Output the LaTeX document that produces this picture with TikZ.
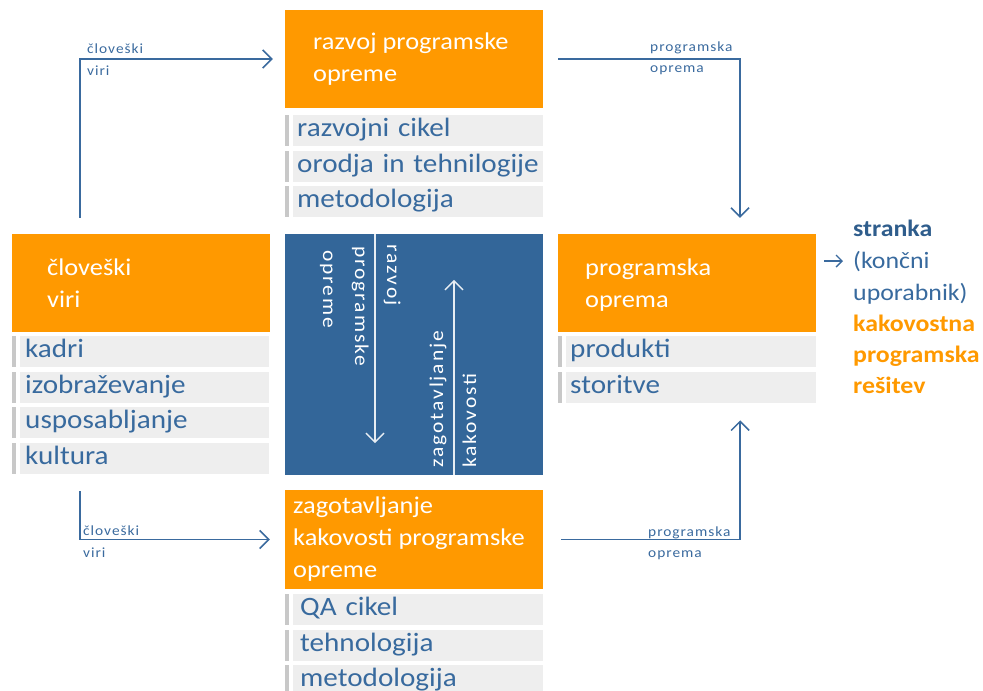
\documentclass[tikz,border=0pt]{standalone}
\usepackage{fontspec}
\setmainfont{Carlito}[FakeStretch=1.1]
\newfontfamily\spacedfont{Carlito}[FakeStretch=1.1,LetterSpace=10]
\newfontfamily\smallfont{Carlito}[FakeStretch=1.1,LetterSpace=7]
\usetikzlibrary{arrows.meta}
\definecolor{orng}{HTML}{FF9900}
\definecolor{navy}{HTML}{336699}
\definecolor{ink}{HTML}{386A9E}
\definecolor{wire}{HTML}{3A6A9E}
\definecolor{rowfill}{HTML}{EEEEEE}
\definecolor{rowbar}{HTML}{C8C8C8}
\definecolor{deep}{HTML}{2F5D8C}
\begin{document}
\begin{tikzpicture}[x=1pt,y=-1pt,
  head/.style={fill=orng, draw=none, minimum width=258, minimum height=98, inner sep=0},
  corebox/.style={fill=navy, draw=none, minimum width=258, minimum height=241, inner sep=0},
  htext/.style={text=white, font=\fontsize{24}{28}\selectfont, anchor=base west, inner sep=0},
  rowbase/.style={fill=rowfill, anchor=north west, minimum height=31, inner ysep=0,
    text height=18, text depth=6, align=left, text=ink, font=\fontsize{26.5}{30}\selectfont},
  rowT/.style={rowbase, inner xsep=4, text width=242},
  rowB/.style={rowbase, inner xsep=7, text width=236},
  rowL/.style={rowbase, inner xsep=5, text width=239},
  rowR/.style={rowbase, inner xsep=4, text width=242},
  lbl/.style={text=wire, font=\smallfont\fontsize{14}{16}\selectfont, anchor=base west, inner sep=0},
  rot/.style={text=white, font=\spacedfont\fontsize{19.5}{22}\selectfont, anchor=base west, inner sep=0},
  cust/.style={anchor=base west, inner sep=0, font=\fontsize{23.5}{26}\selectfont},
  conn/.style={draw=wire, line width=1.5pt, -{Straight Barb[length=9pt,width=18pt]}},
  inarr/.style={draw=white!88!navy, line width=1.5pt, -{Straight Barb[length=9pt,width=18pt]}}
]
\useasboundingbox (0,0) rectangle (983,691);
\clip (0,0) rectangle (983,691);

% --- four orange headers and the blue centre panel
\node[head] (dev) at (414,59) {};
\node[head] (hr) at (140.5,283) {};
\node[head] (sw) at (687,283) {};
\node[head, minimum height=99] (qa) at (414,539.5) {};
\node[corebox] (core) at (414,354.5) {};

% --- header captions
\node[htext] (devT1) at (313,49) {razvoj programske};
\node[htext] (devT2) at (313,81) {opreme};
\node[htext] (hrT1) at (47,275) {človeški};
\node[htext] (hrT2) at (47,307) {viri};
\node[htext] (swT1) at (585,275) {programska};
\node[htext] (swT2) at (585,307) {oprema};
\node[htext] (qaT1) at (293,513) {zagotavljanje};
\node[htext] (qaT2) at (293,545) {kakovosti programske};
\node[htext] (qaT3) at (293,577) {opreme};

% --- item rows
\node[rowT] (dev1) at (293,115) {razvojni cikel};
\node[rowT] (dev2) at (293,151) {orodja in tehnilogije};
\node[rowT] (dev3) at (293,186) {metodologija};
\node[rowL] (hr1) at (20,336) {kadri};
\node[rowL] (hr2) at (20,372) {izobraževanje};
\node[rowL] (hr3) at (20,407) {usposabljanje};
\node[rowL] (hr4) at (20,443) {kultura};
\node[rowR] (sw1) at (566,336) {produkti};
\node[rowR] (sw2) at (566,372) {storitve};
\node[rowB] (qa1) at (293,594) {QA cikel};
\node[rowB] (qa2) at (293,630) {tehnologija};
\node[rowB] (qa3) at (293,665) {metodologija};

% grey marker bar left of every row
\foreach \n in {dev1,dev2,dev3,hr1,hr2,hr3,hr4,sw1,sw2,qa1,qa2,qa3}
  \fill[rowbar] ([xshift=-8pt]\n.north west) rectangle ([xshift=-4.5pt]\n.south west);

% --- centre panel: the two opposing flows
\draw[inarr, shorten >=32pt] ([xshift=-39pt]core.north) -- ([xshift=-39pt]core.south);
\draw[inarr, shorten >=46pt] ([xshift=40pt]core.south) -- ([xshift=40pt]core.north);
\node[rot, rotate=-90] (cr1) at (387,244) {razvoj};
\node[rot, rotate=-90] (cr2) at (355,246) {programske};
\node[rot, rotate=-90] (cr3) at (323,250) {opreme};
\node[rot, rotate=90] (cq1) at (443,468) {zagotavljanje};
\node[rot, rotate=90] (cq2) at (476,468) {kakovosti};

% --- outer connectors
\draw[conn, shorten <=16pt, shorten >=12pt] ([xshift=-60.5pt]hr.north) |- (dev.west);
\draw[conn, shorten <=15pt, shorten >=16pt] (dev.east) -| ([xshift=53pt]sw.north);
\draw[conn, shorten <=17pt, shorten >=15pt] ([xshift=-64.5pt]hr4.south) |- (qa.west);
\draw[conn, shorten <=18pt, shorten >=17pt] (qa.east) -| ([xshift=49pt]sw2.south);

\node[lbl] (l1a) at (87,53) {človeški};
\node[lbl] (l1b) at (87,75) {viri};
\node[lbl] (l2a) at (650,51) {programska};
\node[lbl] (l2b) at (650,72) {oprema};
\node[lbl] (l3a) at (83,535) {človeški};
\node[lbl] (l3b) at (83,557) {viri};
\node[lbl] (l4a) at (648,536) {programska};
\node[lbl] (l4b) at (648,557) {oprema};

% --- customer and outcome
\node[cust, text=deep, font=\bfseries\fontsize{23.5}{26}\selectfont] (cust1) at (853,236) {stranka};
\node[cust, text=ink] (cust2) at (853,268) {(končni};
\node[cust, text=ink] (cust3) at (853,300) {uporabnik)};
\node[cust, text=orng, font=\bfseries\fontsize{23.5}{26}\selectfont] (res1) at (853,331) {kakovostna};
\node[cust, text=orng, font=\bfseries\fontsize{23.5}{26}\selectfont] (res2) at (853,362) {programska};
\node[cust, text=orng, font=\bfseries\fontsize{23.5}{26}\selectfont] (res3) at (853,393) {rešitev};
\draw[draw=wire, line width=1.3pt, -{Straight Barb[length=6pt,width=12pt]}, shorten <=8pt, shorten >=10pt]
  (sw.east |- cust2.west) -- (cust2.west);
\end{tikzpicture}
\end{document}
